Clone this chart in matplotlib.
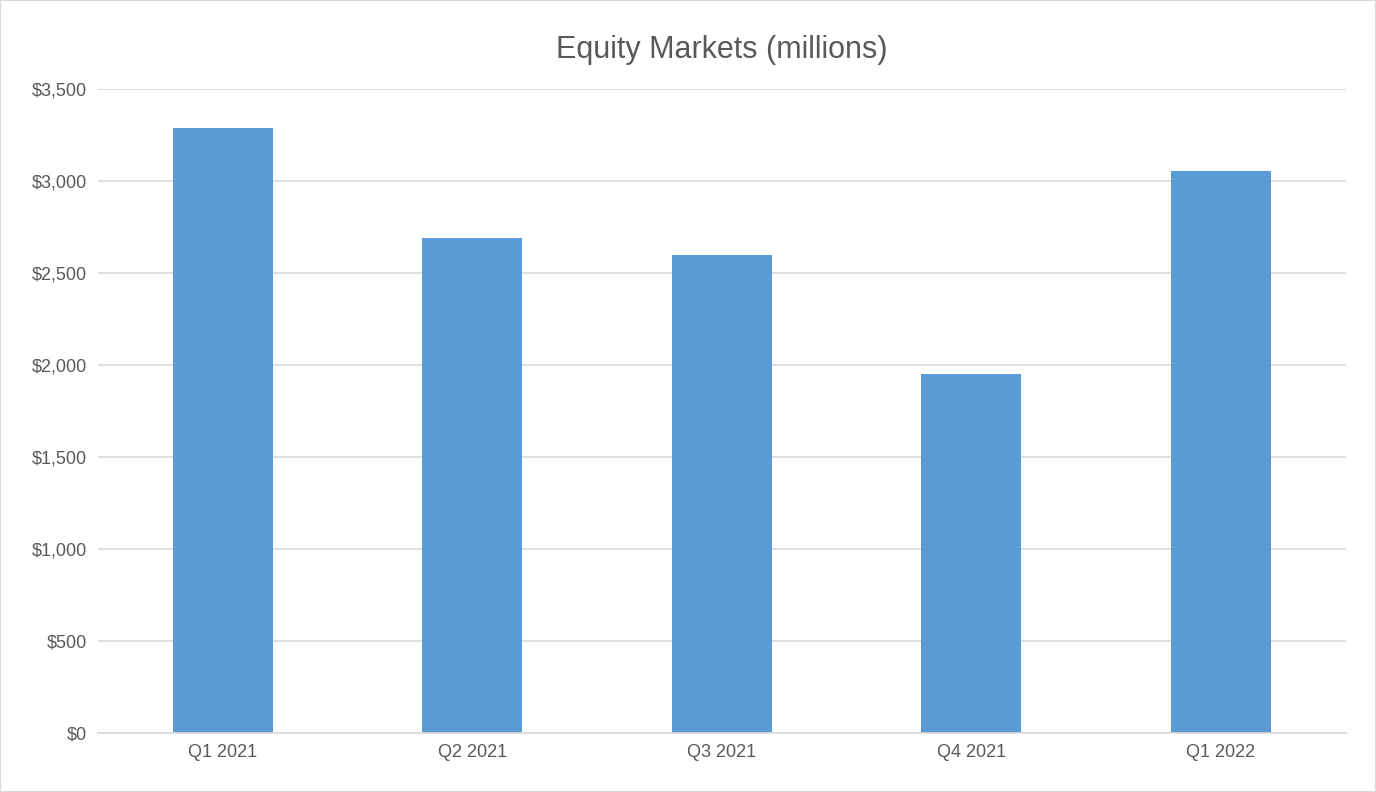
import matplotlib
matplotlib.use("Agg")
import matplotlib.pyplot as plt
from matplotlib.ticker import FuncFormatter, MultipleLocator

categories = ["Q1 2021", "Q2 2021", "Q3 2021", "Q4 2021", "Q1 2022"]
values = [3290, 2690, 2600, 1952, 3055]

plt.rcParams['font.family'] = ['Liberation Sans', 'DejaVu Sans']
fig = plt.figure(figsize=(13.76, 7.92), dpi=100)
ax = fig.add_axes([0.0712, 0.0745, 0.978 - 0.0712, 0.8876 - 0.0745])
ax.bar(range(len(categories)), values, width=0.4, color="#5B9BD5", zorder=2)
ax.set_xlim(-0.5, 4.5)
ax.set_ylim(0, 3500)
ax.yaxis.set_major_locator(MultipleLocator(500))
ax.yaxis.set_major_formatter(FuncFormatter(lambda v, p: f"${v:,.0f}"))
ax.set_xticks(range(len(categories)))
ax.set_xticklabels(categories)
ax.grid(axis="y", color="#D9D9D9", linewidth=1.2, zorder=0)
for s in ["top", "right", "left"]:
    ax.spines[s].set_visible(False)
ax.spines["bottom"].set_color("#D9D9D9")
ax.spines["bottom"].set_linewidth(1.2)
ax.tick_params(length=0, labelsize=13, colors="#595959", pad=8)
ax.set_title("Equity Markets (millions)", fontsize=22, color="#595959", pad=22)
fig.patches.append(matplotlib.patches.Rectangle((0, 0), 1, 1, transform=fig.transFigure,
                   fill=False, edgecolor="#D9D9D9", linewidth=1.5))
fig.savefig("out.png", dpi=100)
